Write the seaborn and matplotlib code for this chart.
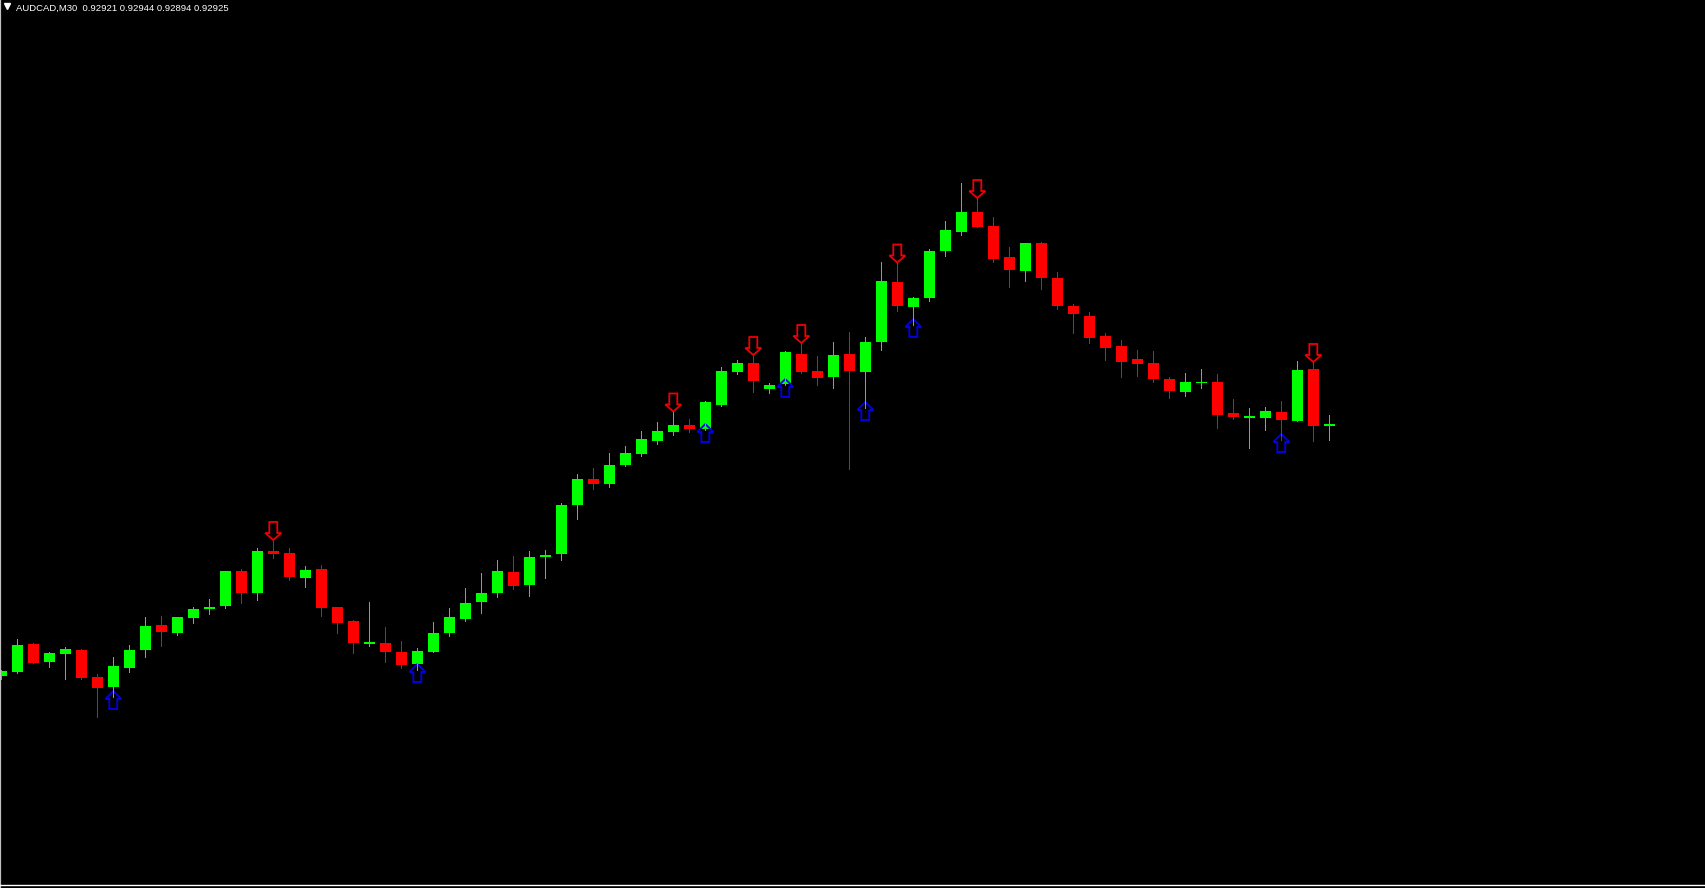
import numpy as np
import pandas as pd
import matplotlib
matplotlib.use("Agg")
import matplotlib.pyplot as plt
from matplotlib.patches import Polygon
import seaborn as sns

# AUDCAD M30 candles
opens = [0.92422, 0.92430, 0.92485, 0.92450, 0.92466, 0.92473, 0.92419, 0.92400, 0.92438, 0.92474,
         0.92523, 0.92508, 0.92538, 0.92555, 0.92562, 0.92631, 0.92588, 0.92671, 0.92667, 0.92618,
         0.92635, 0.92559, 0.92531, 0.92486, 0.92487, 0.92469, 0.92446, 0.92470, 0.92508, 0.92536,
         0.92570, 0.92588, 0.92629, 0.92604, 0.92660, 0.92666, 0.92764, 0.92815, 0.92806, 0.92844,
         0.92866, 0.92892, 0.92910, 0.92923, 0.92916, 0.92964, 0.93030, 0.93047, 0.92996, 0.93006,
         0.93065, 0.93031, 0.93020, 0.93065, 0.93030, 0.93090, 0.93209, 0.93160, 0.93178, 0.93272,
         0.93310, 0.93349, 0.93321, 0.93259, 0.93232, 0.93287, 0.93217, 0.93162, 0.93141, 0.93101,
         0.93081, 0.93055, 0.93047, 0.93015, 0.92990, 0.93007, 0.93009, 0.92947, 0.92938, 0.92938,
         0.92949, 0.92932, 0.93035, 0.92921]
highs = [0.92433, 0.92495, 0.92488, 0.92469, 0.92479, 0.92475, 0.92426, 0.92459, 0.92483, 0.92539,
         0.92541, 0.92540, 0.92559, 0.92575, 0.92632, 0.92635, 0.92677, 0.92693, 0.92677, 0.92641,
         0.92643, 0.92560, 0.92533, 0.92569, 0.92519, 0.92491, 0.92477, 0.92529, 0.92557, 0.92597,
         0.92627, 0.92653, 0.92661, 0.92671, 0.92673, 0.92767, 0.92825, 0.92837, 0.92867, 0.92881,
         0.92911, 0.92929, 0.92950, 0.92935, 0.92971, 0.93039, 0.93053, 0.93063, 0.93007, 0.93071,
         0.93087, 0.93061, 0.93089, 0.93109, 0.93099, 0.93249, 0.93248, 0.93179, 0.93275, 0.93331,
         0.93407, 0.93377, 0.93339, 0.93279, 0.93288, 0.93289, 0.93229, 0.93165, 0.93149, 0.93107,
         0.93093, 0.93073, 0.93071, 0.93019, 0.93027, 0.93035, 0.93025, 0.92975, 0.92957, 0.92959,
         0.92971, 0.93051, 0.93049, 0.92944]
lows = [0.92415, 0.92428, 0.92447, 0.92440, 0.92415, 0.92415, 0.92339, 0.92380, 0.92430, 0.92460,
        0.92482, 0.92504, 0.92528, 0.92546, 0.92558, 0.92568, 0.92574, 0.92658, 0.92614, 0.92600,
        0.92542, 0.92508, 0.92468, 0.92482, 0.92450, 0.92438, 0.92434, 0.92469, 0.92502, 0.92532,
        0.92548, 0.92580, 0.92596, 0.92582, 0.92618, 0.92654, 0.92736, 0.92796, 0.92800, 0.92842,
        0.92862, 0.92886, 0.92904, 0.92910, 0.92914, 0.92962, 0.93025, 0.92990, 0.92988, 0.93004,
        0.93028, 0.93004, 0.92998, 0.92836, 0.92958, 0.93074, 0.93152, 0.93124, 0.93172, 0.93262,
        0.93304, 0.93319, 0.93250, 0.93200, 0.93212, 0.93196, 0.93156, 0.93108, 0.93088, 0.93054,
        0.93020, 0.93022, 0.93010, 0.92978, 0.92982, 0.92998, 0.92918, 0.92936, 0.92878, 0.92914,
        0.92894, 0.92931, 0.92892, 0.92894]
closes = [0.92431, 0.92483, 0.92448, 0.92467, 0.92475, 0.92418, 0.92398, 0.92441, 0.92473, 0.92521,
          0.92510, 0.92539, 0.92555, 0.92560, 0.92631, 0.92588, 0.92671, 0.92666, 0.92620, 0.92633,
          0.92558, 0.92528, 0.92488, 0.92489, 0.92470, 0.92444, 0.92471, 0.92507, 0.92539, 0.92567,
          0.92587, 0.92631, 0.92602, 0.92659, 0.92663, 0.92763, 0.92815, 0.92806, 0.92843, 0.92867,
          0.92895, 0.92911, 0.92923, 0.92916, 0.92969, 0.93031, 0.93047, 0.93012, 0.93003, 0.93069,
          0.93030, 0.93018, 0.93063, 0.93032, 0.93089, 0.93211, 0.93162, 0.93177, 0.93271, 0.93313,
          0.93349, 0.93320, 0.93256, 0.93234, 0.93287, 0.93218, 0.93162, 0.93146, 0.93098, 0.93078,
          0.93050, 0.93046, 0.93016, 0.92992, 0.93009, 0.93010, 0.92944, 0.92940, 0.92941, 0.92951,
          0.92934, 0.93033, 0.92922, 0.92925]

# bars where the indicator printed a signal arrow
up_signals = [7, 26, 44, 49, 54, 57, 80]
down_signals = [17, 42, 47, 50, 56, 61, 82]

title = "AUDCAD,M30  0.92921 0.92944 0.92894 0.92925"

df = pd.DataFrame({"open": opens, "high": highs, "low": lows, "close": closes})
df["x"] = np.arange(len(df))
df["bull"] = df["close"] >= df["open"]
df["color"] = np.where(df["bull"], "#00ff00", "#ff0000")

W, H = 1705, 888
PX_X = 1 / 16.0      # one screen pixel in bar units
PX_Y = 0.00002       # one screen pixel in price units

sns.set_style("dark")
plt.rcParams["font.family"] = ["Liberation Sans", "DejaVu Sans"]

fig = plt.figure(figsize=(W / 100, H / 100), dpi=100, facecolor="black")
ax = fig.add_axes([0, 0, 1, 1])
ax.set_facecolor("black")

# wicks, 1px
ax.vlines(df["x"], df["low"], df["high"], colors=df["color"], linewidth=0.72, antialiased=False)

# bodies
body_h = np.maximum((df["close"] - df["open"]).abs(), PX_Y)
ax.bar(df["x"], body_h, bottom=df[["open", "close"]].min(axis=1), width=11 * PX_X,
       color=df["color"], linewidth=0, antialiased=False)

# signal arrows, outlined
up_shape = [(0, 0), (8, 8), (4, 8), (4, 18), (-4, 18), (-4, 8), (-8, 8)]
for i in up_signals:
    tip = lows[i] + 5.5 * PX_Y
    pts = [(i + dx * PX_X, tip - dy * PX_Y) for dx, dy in up_shape]
    ax.add_patch(Polygon(pts, closed=True, fill=False, edgecolor="#0000f0", linewidth=1.3))

down_shape = [(0, 0), (8, 7), (4, 7), (4, 18), (-4, 18), (-4, 7), (-8, 7)]
for i in down_signals:
    tip = highs[i]
    pts = [(i + dx * PX_X, tip + dy * PX_Y) for dx, dy in down_shape]
    ax.add_patch(Polygon(pts, closed=True, fill=False, edgecolor="#f00000", linewidth=1.3))

# screen mapping: bar 0 sits at x=1.3px, price 0.92925 at y=424px
ax.set_xlim(-1.3 * PX_X, (W - 1.3) * PX_X)
ax.set_ylim(0.92925 - (H - 424) * PX_Y, 0.92925 + 424 * PX_Y)

# time scale line with a tick every 4 bars
for s in ["top", "right"]:
    ax.spines[s].set_visible(False)
ax.spines["bottom"].set_position(("axes", 3.0 / H))
ax.spines["bottom"].set_color("white")
ax.spines["bottom"].set_linewidth(1.0)
ax.spines["left"].set_color("#c0c0c0")
ax.spines["left"].set_linewidth(1.6)
ax.set_xticks(df["x"][:81:4])
ax.set_yticks([])
ax.tick_params(axis="x", colors="white", direction="out", length=3, width=1.0,
               labelbottom=False)
ax.grid(False)

# chart header
ax.plot([7.0 / W], [1 - 6.3 / H], marker="v", markersize=4.5, color="white",
        transform=ax.transAxes, clip_on=False)
fig.text(16.0 / W, 1 - 10.7 / H, title, color="white", fontsize=6.8, va="baseline", ha="left")

fig.savefig("out.png", dpi=100, facecolor="black")
